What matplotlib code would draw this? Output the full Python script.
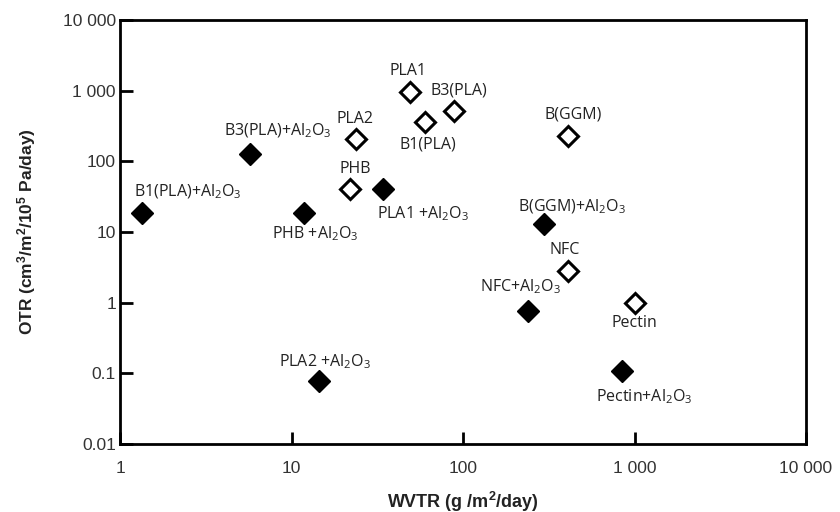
import matplotlib
matplotlib.use("Agg")
import matplotlib.pyplot as plt
from matplotlib.ticker import FixedLocator, FixedFormatter, NullLocator

plt.rcParams['mathtext.default'] = 'regular'

# coated samples (filled) and uncoated substrates (open)
coated_names = ['B1(PLA)+Al$_2$O$_3$', 'B3(PLA)+Al$_2$O$_3$', 'PHB +Al$_2$O$_3$',
                'PLA1 +Al$_2$O$_3$', 'B(GGM)+Al$_2$O$_3$', 'NFC+Al$_2$O$_3$',
                'PLA2 +Al$_2$O$_3$', 'Pectin+Al$_2$O$_3$']
coated_wvtr = [1.34, 5.7, 11.8, 34, 297, 238, 14.5, 847]
coated_otr = [18.6, 126, 18.6, 40, 13, 0.76, 0.077, 0.107]

open_names = ['PLA1', 'B1(PLA)', 'B3(PLA)', 'PLA2', 'PHB', 'B(GGM)', 'NFC', 'Pectin']
open_wvtr = [49, 60, 88, 23.8, 22, 408, 408, 1000]
open_otr = [950, 360, 510, 206, 40, 225, 2.8, 1.0]

# label offsets in pixels (dx, dy)
coated_off = [(46, 21), (28, 23), (11, -21), (40, -24), (28, 17), (-7, 24), (6, 20), (22, -25)]
open_off = [(-2, 21), (3, -23), (5, 21), (-1, 20), (5, 20), (5, 22), (-3, 21), (0, -20)]

y_ticks = [0.01, 0.1, 1, 10, 100, 1000, 10000]
y_labels = ['0.01', '0.1', '1', '10', '100', '1 000', '10 000']
x_ticks = [1, 10, 100, 1000, 10000]
x_labels = ['1', '10', '100', '1 000', '10 000']

fig = plt.figure(figsize=(8.4, 5.12), dpi=100)
ax = fig.add_axes([0.143, 0.133, 0.8165, 0.828])
ax.set_xscale('log')
ax.set_yscale('log')
ax.set_xlim(1, 10000)
ax.set_ylim(0.01, 10000)

ax.plot(coated_wvtr, coated_otr, 'D', ms=11, mfc='black', mec='black', mew=1, ls='none')
ax.plot(open_wvtr, open_otr, 'D', ms=10, mfc='white', mec='black', mew=2.2, ls='none')

lab_font = dict(family='Open Sans', size=11.5, color='#222222')
for n, x, y, o in zip(coated_names, coated_wvtr, coated_otr, coated_off):
    ax.annotate(n, (x, y), xytext=o, textcoords='offset pixels',
                ha='center', va='center', **lab_font)
for n, x, y, o in zip(open_names, open_wvtr, open_otr, open_off):
    ax.annotate(n, (x, y), xytext=o, textcoords='offset pixels',
                ha='center', va='center', **lab_font)

ax.xaxis.set_major_locator(FixedLocator(x_ticks))
ax.xaxis.set_major_formatter(FixedFormatter(x_labels))
ax.yaxis.set_major_locator(FixedLocator(y_ticks))
ax.yaxis.set_major_formatter(FixedFormatter(y_labels))
ax.xaxis.set_minor_locator(NullLocator())
ax.yaxis.set_minor_locator(NullLocator())
ax.tick_params(direction='in', length=9, width=2, labelsize=12.5,
               labelcolor='#333333')
ax.tick_params(axis='x', pad=12)
ax.tick_params(axis='y', pad=3)
for lbl in ax.get_xticklabels() + ax.get_yticklabels():
    lbl.set_family('Liberation Sans')
for s in ax.spines.values():
    s.set_linewidth(2)

ax.set_xlabel('WVTR (g /m$^2$/day)', family='Liberation Sans', fontweight='bold',
              fontsize=13, labelpad=10, color='#222222')
ax.set_ylabel('OTR (cm$^3$/m$^2$/10$^5$ Pa/day)', family='Liberation Sans',
              fontweight='bold', fontsize=12.5, labelpad=18, color='#222222')

fig.savefig('out.png', dpi=100)
